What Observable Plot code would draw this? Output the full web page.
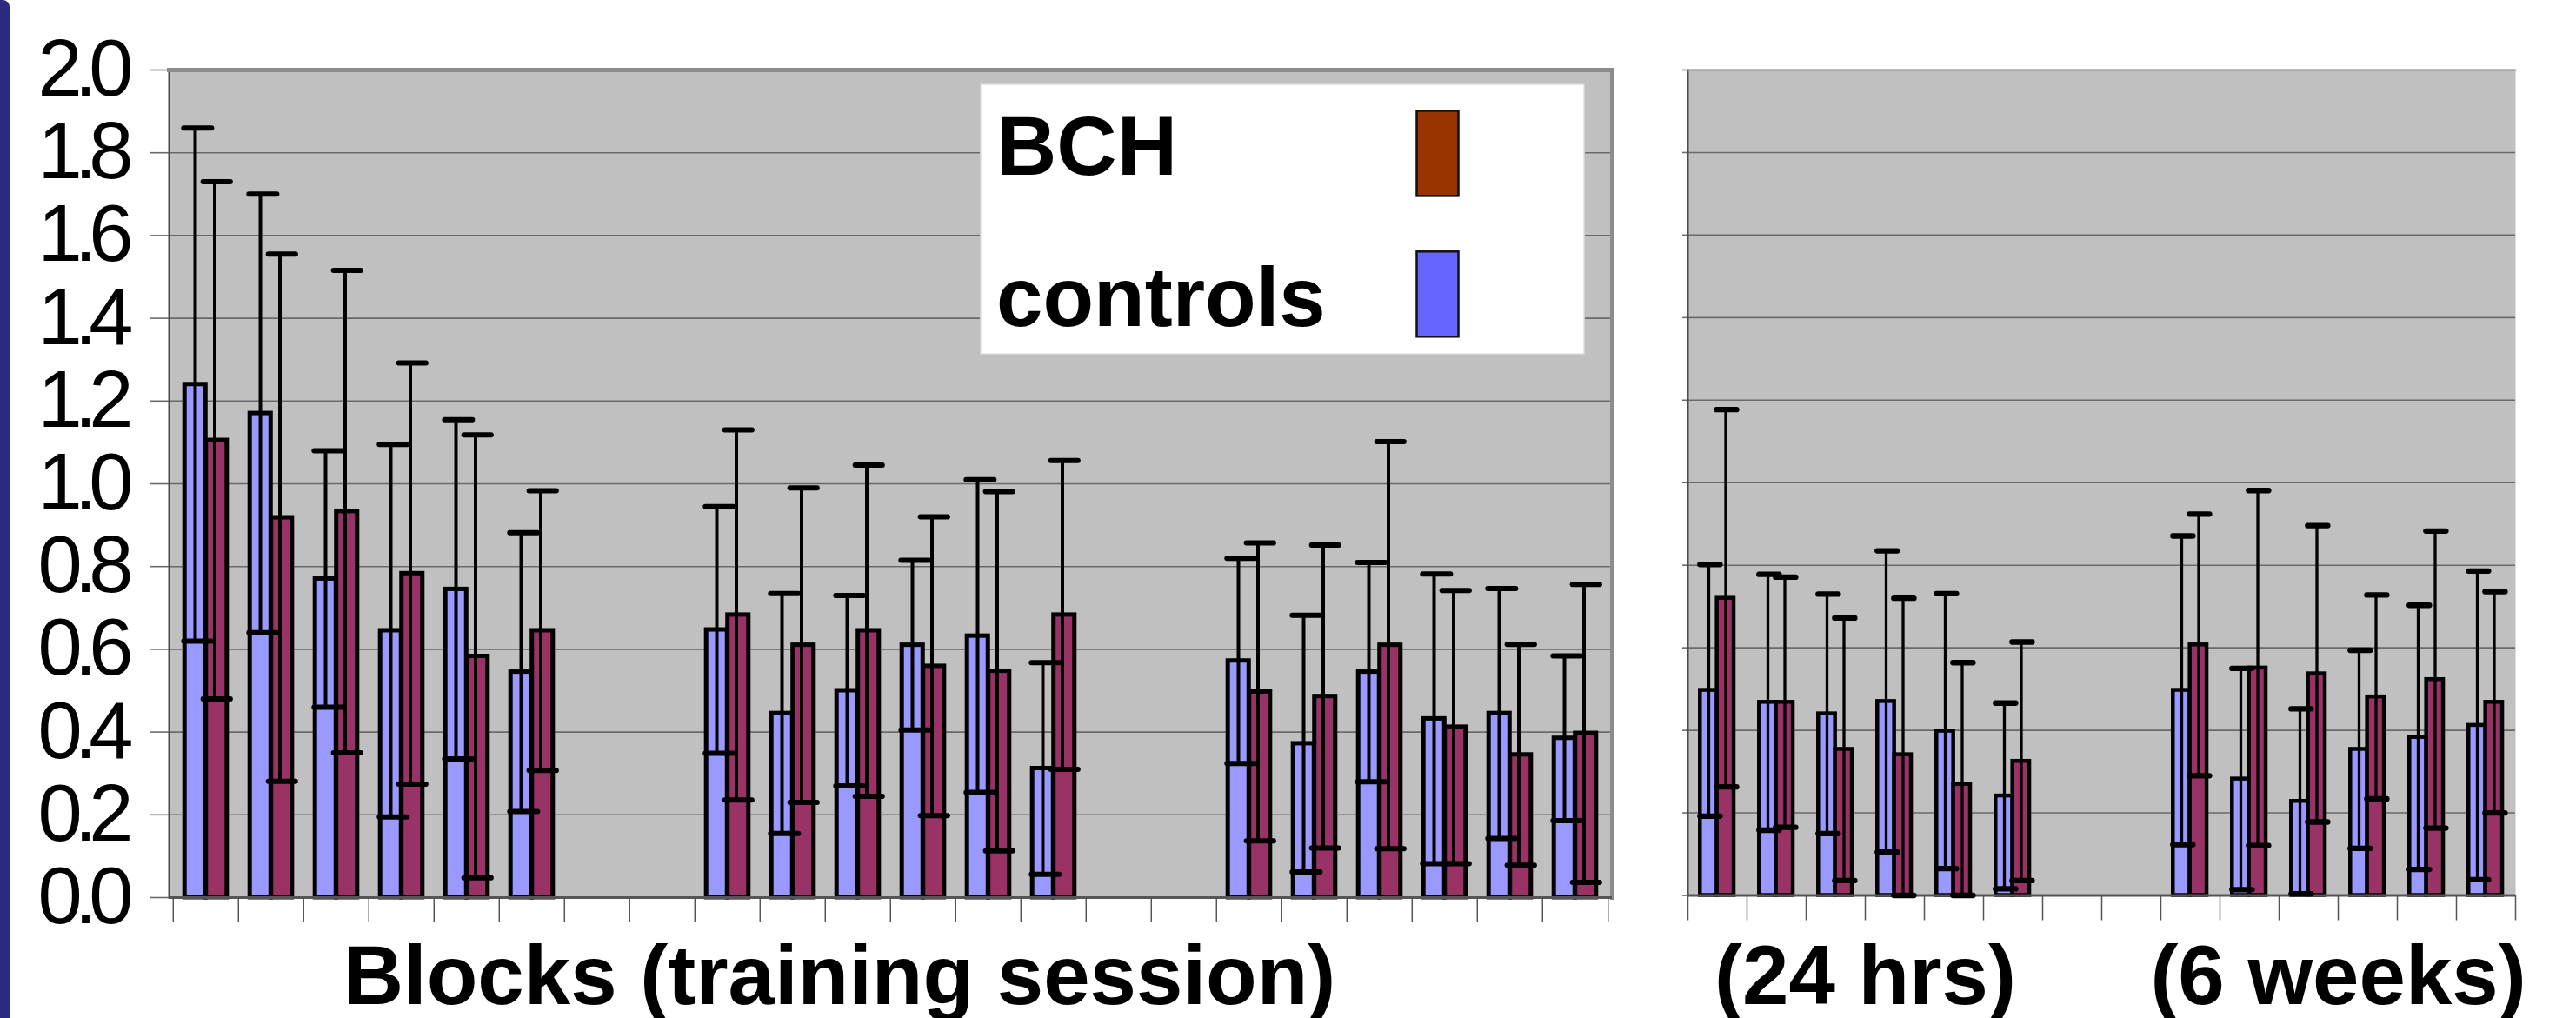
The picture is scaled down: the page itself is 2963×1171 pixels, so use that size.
<!DOCTYPE html>
<html>
<head>
<meta charset="utf-8">
<script src="https://cdn.jsdelivr.net/npm/d3@7"></script>
<script src="https://cdn.jsdelivr.net/npm/@observablehq/plot@0.6"></script>
<style>
  html, body { margin: 0; padding: 0; background: #fff; }
  #chart { position: relative; width: 2963px; height: 1171px; overflow: hidden; background: #fff; }
  #navy { position: absolute; left: 0; top: 0; width: 11px; height: 1171px; background: #2b2a7e; border-top-right-radius: 8px; }
  #left, #right { position: absolute; top: 0; }
  #left { left: 0; }
  #right { left: 1870px; }
  #left g[aria-label="y-axis tick label"] text { letter-spacing: -9px; }
</style>
</head>
<body>
<div id="chart">
  <div id="navy"></div>
  <div id="left"></div>
  <div id="right"></div>
</div>
<script>
// ---------- data ----------
const yTickValues = [0.0, 0.2, 0.4, 0.6, 0.8, 1.0, 1.2, 1.4, 1.6, 1.8, 2.0];

const trainingBlocks = ["Block 1","Block 2","Block 3","Block 4","Block 5","Block 6",
  "Block 7","Block 8","Block 9","Block 10","Block 11","Block 12",
  "Block 13","Block 14","Block 15","Block 16","Block 17","Block 18"];
const trainingGaps = ["gap 1a", "gap 1b", "gap 2a", "gap 2b"];

const trainingControlsMean = [1.24, 1.17, 0.77, 0.645, 0.745, 0.545, 0.647, 0.445, 0.50, 0.61, 0.632, 0.312, 0.572, 0.372, 0.545, 0.432, 0.445, 0.385];
const trainingControlsSD   = [0.62, 0.53, 0.31, 0.45, 0.41, 0.337, 0.298, 0.29, 0.23, 0.205, 0.378, 0.256, 0.248, 0.31, 0.265, 0.35, 0.302, 0.199];
const trainingBCHMean      = [1.105, 0.918, 0.933, 0.783, 0.583, 0.645, 0.683, 0.61, 0.645, 0.559, 0.547, 0.683, 0.497, 0.486, 0.61, 0.412, 0.345, 0.397];
const trainingBCHSD        = [0.625, 0.637, 0.583, 0.509, 0.535, 0.338, 0.447, 0.38, 0.40, 0.361, 0.434, 0.373, 0.36, 0.366, 0.492, 0.33, 0.267, 0.36];

const retentionBlocks = ["24 hrs 1","24 hrs 2","24 hrs 3","24 hrs 4","24 hrs 5","24 hrs 6",
  "6 weeks 1","6 weeks 2","6 weeks 3","6 weeks 4","6 weeks 5","6 weeks 6"];
const retentionGaps = ["gap 3a", "gap 3b"];

const retentionControlsMean = [0.497, 0.468, 0.44, 0.47, 0.398, 0.241, 0.497, 0.282, 0.228, 0.354, 0.383, 0.412];
const retentionControlsSD   = [0.305, 0.31, 0.29, 0.365, 0.333, 0.225, 0.374, 0.268, 0.224, 0.24, 0.32, 0.374];
const retentionBCHMean      = [0.72, 0.468, 0.354, 0.341, 0.269, 0.325, 0.607, 0.551, 0.537, 0.481, 0.523, 0.468];
const retentionBCHSD        = [0.457, 0.303, 0.318, 0.379, 0.295, 0.289, 0.317, 0.43, 0.359, 0.247, 0.36, 0.268];

const axisTitles = ["Blocks (training session)", "(24 hrs)", "(6 weeks)"];
const legendNames = ["BCH", "controls"];

// ---------- styles ----------
const barFill = {controls: "#9999ff", bch: "#993366"};
const legendFill = ["#993300", "#6666ff"];
const FONT = "'Liberation Sans', Arial, Helvetica, sans-serif";

// ---------- tables ----------
const trainingSlots = [...trainingBlocks.slice(0, 6), trainingGaps[0], trainingGaps[1],
  ...trainingBlocks.slice(6, 12), trainingGaps[2], trainingGaps[3], ...trainingBlocks.slice(12)];
const retentionSlots = [...retentionBlocks.slice(0, 6), ...retentionGaps, ...retentionBlocks.slice(6)];

const rows = (slots, mean, sd) => slots.map((slot, i) => ({slot, mean: mean[i], sd: sd[i]}));
const trainingControls = rows(trainingBlocks, trainingControlsMean, trainingControlsSD);
const trainingBCH = rows(trainingBlocks, trainingBCHMean, trainingBCHSD);
const retentionControls = rows(retentionBlocks, retentionControlsMean, retentionControlsSD);
const retentionBCH = rows(retentionBlocks, retentionBCHMean, retentionBCHSD);

function panel(cfg) {
  const bw = (cfg.width - cfg.marginLeft - cfg.marginRight) / cfg.slots.length;
  const series = [
    {data: cfg.controls, fill: barFill.controls, bar: cfg.ctrlBar, cap: cfg.ctrlCap, dx: cfg.ctrlDx},
    {data: cfg.bch, fill: barFill.bch, bar: cfg.bchBar, cap: cfg.bchCap, dx: cfg.bchDx}
  ];
  const lo = d => Math.max(0, d.mean - d.sd);
  const hi = d => d.mean + d.sd;
  const marks = [
    Plot.frame({fill: "#c0c0c0"}),
    Plot.gridY({ticks: yTickValues, stroke: "#6a6a6a", strokeOpacity: 1, strokeWidth: 1.6}),
    Plot.axisY({ticks: yTickValues, tickFormat: cfg.yLabels ? d3.format(".1f") : () => "", label: null,
      tickSize: cfg.yTickSize, tickPadding: 28, fontSize: 92, stroke: "#6a6a6a", strokeWidth: 1.6, fill: "#000"}),
    Plot.axisX({ticks: cfg.slots, tickFormat: () => "", label: null, tickSize: 29, dx: -bw / 2, stroke: "#555", strokeWidth: 1.5}),
    Plot.axisX({ticks: [cfg.slots[cfg.slots.length - 1]], tickFormat: () => "", label: null, tickSize: 29, dx: bw / 2, stroke: "#555", strokeWidth: 1.5}),
    ...cfg.frameMarks
  ];
  for (const s of series) {
    marks.push(Plot.barY(s.data, {x: "slot", y: "mean", fill: s.fill, stroke: "#000", strokeWidth: cfg.barStroke,
      insetLeft: s.bar[0] * bw, insetRight: (1 - s.bar[1]) * bw}));
  }
  marks.push(Plot.ruleY([0], {stroke: "#555", strokeWidth: 3}));
  for (const s of series) {
    marks.push(Plot.ruleX(s.data, {x: "slot", y1: lo, y2: hi, dx: s.dx, stroke: "#000", strokeWidth: cfg.errStroke}));
    for (const yv of [lo, hi]) {
      marks.push(Plot.tickY(s.data, {x: "slot", y: yv, insetLeft: s.cap[0] * bw, insetRight: (1 - s.cap[1]) * bw,
        stroke: "#000", strokeWidth: cfg.capStroke, strokeLinecap: "round"}));
    }
  }
  marks.push(...cfg.titleMarks(bw));
  return Plot.plot({
    width: cfg.width, height: 1171,
    marginLeft: cfg.marginLeft, marginRight: cfg.marginRight, marginTop: 80, marginBottom: cfg.marginBottom,
    x: {domain: cfg.slots, padding: 0, label: null},
    y: {domain: [0, 2], label: null},
    style: {background: "transparent", fontFamily: FONT, overflow: "visible", color: "#000"},
    marks
  });
}

const leftPlot = panel({
  slots: trainingSlots, controls: trainingControls, bch: trainingBCH,
  width: 1860, marginLeft: 194, marginRight: 6, marginBottom: 139,
  ctrlBar: [0.175, 0.5], bchBar: [0.5, 0.825],
  ctrlCap: [0.163, 0.594], bchCap: [0.459, 0.879],
  ctrlDx: -12.5, bchDx: 10,
  barStroke: 5, errStroke: 4, capStroke: 6, yTickSize: 22, yLabels: true,
  frameMarks: [
    Plot.frame({anchor: "left", stroke: "#4a4a4a", strokeWidth: 2}),
    Plot.frame({anchor: "top", stroke: "#8c8c8c", strokeWidth: 5}),
    Plot.frame({anchor: "right", stroke: "#8c8c8c", strokeWidth: 5})
  ],
  titleMarks: () => [
    Plot.text([axisTitles[0]], {frameAnchor: "bottom", dx: -59, dy: 122, lineAnchor: "bottom",
      fontSize: 96, fontWeight: "bold", fill: "#000"})
  ]
});
document.getElementById("left").appendChild(leftPlot);

const rightPlot = panel({
  slots: retentionSlots, controls: retentionControls, bch: retentionBCH,
  width: 1093, marginLeft: 71, marginRight: 70, marginBottom: 141.5,
  ctrlBar: [0.21, 0.495], bchBar: [0.495, 0.78],
  ctrlCap: [0.21, 0.55], bchCap: [0.49, 0.83],
  ctrlDx: -10, bchDx: 9.5,
  barStroke: 4.5, errStroke: 3.3, capStroke: 6.3, yTickSize: 6, yLabels: false,
  frameMarks: [
    Plot.frame({anchor: "left", stroke: "#4a4a4a", strokeWidth: 2}),
    Plot.frame({anchor: "top", stroke: "#a8a8a8", strokeWidth: 2})
  ],
  titleMarks: (bw) => [
    Plot.text([{slot: retentionSlots[2], label: axisTitles[1]}, {slot: retentionSlots[10], label: axisTitles[2]}],
      {x: "slot", text: "label", frameAnchor: "bottom", dx: bw / 2, dy: 124.5, lineAnchor: "bottom",
       fontSize: 96, fontWeight: "bold", fill: "#000"})
  ]
});
document.getElementById("right").appendChild(rightPlot);

// ---------- legend ----------
const lg = d3.select("#chart").append("svg")
  .attr("width", 696).attr("height", 312)
  .style("position", "absolute").style("left", "1127px").style("top", "96px");
lg.append("rect").attr("x", 0.75).attr("y", 0.75).attr("width", 694.5).attr("height", 310.5)
  .attr("fill", "#fff").attr("stroke", "#d2d2d2").attr("stroke-width", 1.5);
const legendRows = [{baseline: 105, swatchY: 31.4}, {baseline: 279, swatchY: 193.3}];
legendNames.forEach((name, i) => {
  lg.append("text").attr("x", 19).attr("y", legendRows[i].baseline)
    .attr("font-family", FONT).attr("font-size", 96).attr("font-weight", "bold").attr("fill", "#000")
    .text(name);
  lg.append("rect").attr("x", 502.5).attr("y", legendRows[i].swatchY).attr("width", 48).attr("height", 98)
    .attr("fill", legendFill[i]).attr("stroke", "#111").attr("stroke-width", 2.5);
});
</script>
</body>
</html>
